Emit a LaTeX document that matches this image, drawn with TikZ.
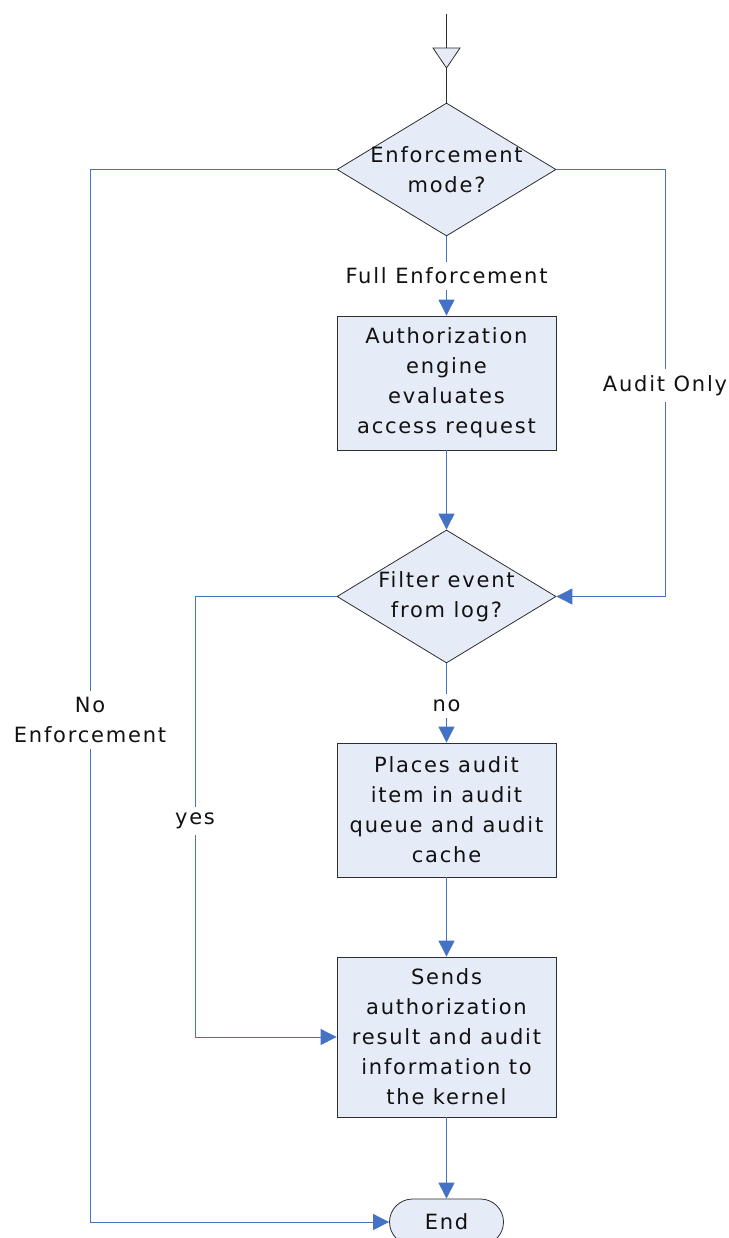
\documentclass[tikz,border=0pt]{standalone}
\usepackage{fontspec}
\setmainfont{DejaVu Sans}[LetterSpace=8.5]
\usetikzlibrary{shapes.geometric,shapes.misc,arrows.meta,shadows}
\definecolor{boxfill}{HTML}{E6ECF7}
\definecolor{linkblue}{HTML}{4472C4}
\definecolor{edgegray}{HTML}{2E2E2E}
\definecolor{ink}{HTML}{111111}
\begin{document}
\begin{tikzpicture}[x=1pt,y=-1pt,
  txt/.style={font=\fontsize{21}{30}\selectfont, text=ink},
  procbox/.style={txt, rectangle, draw=edgegray, line width=0.8pt, fill=boxfill,
    minimum width=219pt, align=center, inner sep=0pt,
    drop shadow={shadow xshift=0.6pt, shadow yshift=-1.2pt, fill=black!45, opacity=1}},
  decision/.style={diamond, draw=edgegray, line width=0.8pt, fill=boxfill,
    minimum width=219pt, minimum height=133pt, inner sep=0pt},
  dtext/.style={txt, align=center, inner sep=0pt},
  terminal/.style={txt, rounded rectangle, draw=edgegray, line width=0.8pt, fill=boxfill,
    minimum width=114pt, minimum height=46pt, inner sep=0pt},
  link/.style={draw=linkblue, line width=0.9pt},
  arr/.style={link, -{Triangle[length=16pt,width=16pt]}},
  startline/.style={draw=edgegray, line width=0.8pt},
  lbl/.style={txt, fill=white, inner sep=6pt, align=center}
]
\useasboundingbox (0,0) rectangle (728,1238);

% start marker
\coordinate (start) at (446.5,14);
\coordinate (trtop) at (446.5,48);
\coordinate (trtip) at (446.5,68);
\filldraw[fill=boxfill, startline] (433,48) -- (460,48) -- (trtip) -- cycle;

% shapes
\node[decision] (d1) at (446.5,169.5) {};
\node[dtext] (d1t) at (446.5,169.5) {Enforcement\\mode?};
\node[procbox, minimum height=134pt] (b1) at (446.5,383) {Authorization\\engine\\evaluates\\access request};
\node[decision] (d2) at (446.5,596.5) {};
\node[dtext] (d2t) at (446.5,596.5) {Filter event\\from log?};
\node[procbox, minimum height=134pt] (b2) at (446.5,810) {Places audit\\item in audit\\queue and audit\\cache};
\node[procbox, minimum height=160pt] (b3) at (446.5,1037) {Sends\\authorization\\result and audit\\information to\\the kernel};
\node[terminal] (end) at (446.5,1222) {End};

% routing points
\coordinate (rA) at (665,169.5);
\coordinate (rB) at (665,596.5);
\coordinate (lA) at (90,169.5);
\coordinate (lB) at (90,1222);
\coordinate (yA) at (195,596.5);
\coordinate (yB) at (195,1037);

% connectors
\draw[startline] (start) -- (trtop);
\draw[startline] (trtip) -- (d1.north);
\draw[arr] (d1.south) -- (b1.north);
\draw[arr] (b1.south) -- (d2.north);
\draw[arr] (d2.south) -- (b2.north);
\draw[arr] (b2.south) -- (b3.north);
\draw[arr] (b3.south) -- (end.north);
\draw[arr] (d1.east) -- (rA) -- (rB) -- (d2.east);
\draw[arr] (d1.west) -- (lA) -- (lB) -- (end.west);
\draw[arr] (d2.west) -- (yA) -- (yB) -- (b3.west);

% labels
\node[lbl] (lfull) at (446.5,276) {Full Enforcement};
\node[lbl] (lno) at (446.5,706) {no};
\node[lbl] (laudit) at (665,385.5) {Audit Only};
\node[lbl] (lnoenf) at (90,720) {No\\Enforcement};
\node[lbl] (lyes) at (195,821) {yes};
\end{tikzpicture}
\end{document}
